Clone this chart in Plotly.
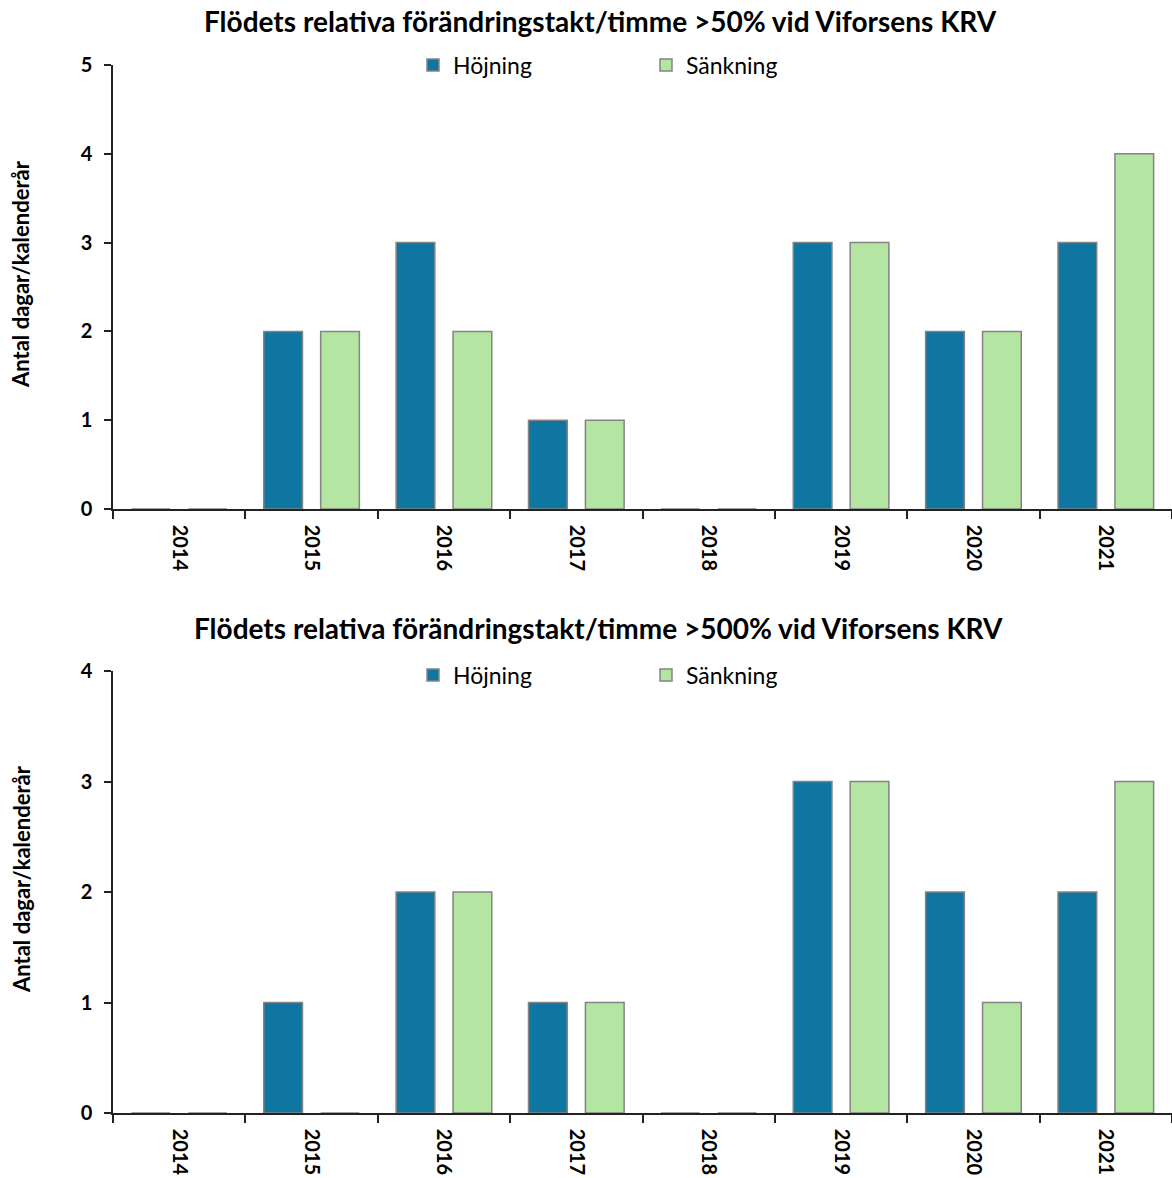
import plotly.graph_objects as go
from plotly.subplots import make_subplots

years = ["2014", "2015", "2016", "2017", "2018", "2019", "2020", "2021"]

# >50 % relative change per hour
hojning_50 = [0, 2, 3, 1, 0, 3, 2, 3]
sankning_50 = [0, 2, 2, 1, 0, 3, 2, 4]

# >500 % relative change per hour
hojning_500 = [0, 1, 2, 1, 0, 3, 2, 2]
sankning_500 = [0, 0, 2, 1, 0, 3, 1, 3]

title_top = "Flödets relativa förändringstakt/timme >50% vid Viforsens KRV"
title_bottom = "Flödets relativa förändringstakt/timme >500% vid Viforsens KRV"
y_title = "Antal dagar/kalenderår"

BLUE = "#0E76A0"
GREEN = "#B4E5A2"
EDGE = "#848484"
FONT = "Lato"

W, H = 1172, 1178
LEFT = 113

fig = make_subplots(rows=2, cols=1)

def add_pair(hoj, sank, row, legend):
    fig.add_trace(go.Bar(x=years, y=hoj, name="Höjning", marker_color=BLUE,
                         marker_line=dict(color=EDGE, width=1.5), legend=legend),
                  row=row, col=1)
    fig.add_trace(go.Bar(x=years, y=sank, name="Sänkning", marker_color=GREEN,
                         marker_line=dict(color=EDGE, width=1.5), legend=legend),
                  row=row, col=1)

add_pair(hojning_50, sankning_50, 1, "legend")
add_pair(hojning_500, sankning_500, 2, "legend2")

def py(p):
    return 1 - p / H

def px(p):
    return (p - LEFT) / (W - LEFT)

xaxis_common = dict(
    showline=True, linecolor="#222222", linewidth=1.5, automargin=False,
    ticks="outside", tickson="boundaries", ticklen=8, tickwidth=1.5, tickcolor="#222222",
    tickangle=90, tickfont=dict(family=FONT, size=20, color="black", weight="bold"),
    ticklabelstandoff=10, showgrid=False, domain=[0, 1], layer="above traces",
)
yaxis_common = dict(
    showline=True, linecolor="#222222", linewidth=1.5, automargin=False,
    ticks="outside", ticklen=7, tickwidth=1.5, tickcolor="#222222",
    tickfont=dict(family=FONT, size=20, color="black", weight="bold"),
    showgrid=False, zeroline=False, dtick=1, ticklabelstandoff=8,
)

legend_common = dict(
    orientation="h", xanchor="left", yanchor="middle",
    entrywidth=188, entrywidthmode="pixels", itemwidth=30,
    font=dict(family=FONT, size=23, color="black"), bgcolor="rgba(0,0,0,0)",
)

title_font = dict(family=FONT, size=28, color="black", weight="bold")
ytitle_font = dict(family=FONT, size=22, color="black", weight="bold")

fig.update_layout(
    width=W, height=H,
    margin=dict(l=LEFT, r=0, t=0, b=0, autoexpand=False),
    paper_bgcolor="white", plot_bgcolor="white",
    barmode="group", bargap=0.14, bargroupgap=0.32,
    font=dict(family=FONT, color="black"),
    xaxis=dict(**xaxis_common),
    xaxis2=dict(**xaxis_common),
    yaxis=dict(**yaxis_common, range=[0, 5], domain=[py(509), py(65)]),
    yaxis2=dict(**yaxis_common, range=[0, 4], domain=[py(1113), py(671)]),
    legend=dict(**legend_common, x=px(413), y=py(65)),
    legend2=dict(**legend_common, x=px(413), y=py(675)),
    annotations=[
        dict(text=title_top, x=px(600), y=py(21), xref="paper", yref="paper",
             showarrow=False, xanchor="center", yanchor="middle", font=title_font),
        dict(text=title_bottom, x=px(598), y=py(628), xref="paper", yref="paper",
             showarrow=False, xanchor="center", yanchor="middle", font=title_font),
        dict(text=y_title, x=px(21), y=py(274), xref="paper", yref="paper",
             showarrow=False, xanchor="center", yanchor="middle", textangle=-90,
             font=ytitle_font),
        dict(text=y_title, x=px(21), y=py(879), xref="paper", yref="paper",
             showarrow=False, xanchor="center", yanchor="middle", textangle=-90,
             font=ytitle_font),
    ],
)

fig.write_html("out.html")
